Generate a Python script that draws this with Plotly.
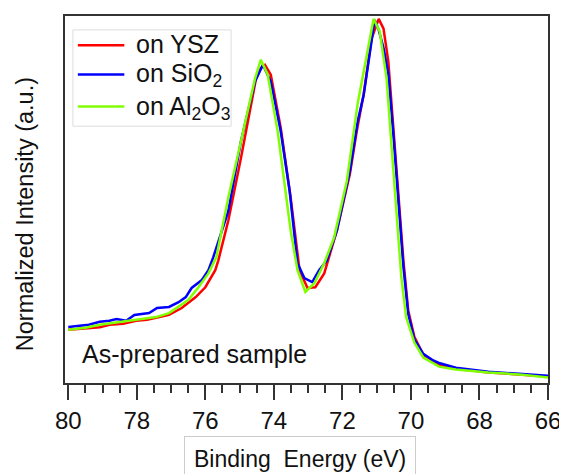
import plotly.graph_objects as go

# Binding energy (eV) and normalized intensity for each sample
ysz_be = [80.0, 79.5, 79.08, 78.8, 78.4, 78.02, 77.7, 77.44, 77.06, 76.69, 76.5, 76.28, 76.0,
          75.71, 75.62, 75.33, 74.96, 74.7, 74.52, 74.38, 74.26, 74.09, 73.95, 73.8, 73.51,
          73.25, 73.02, 72.88, 72.79, 72.53, 72.16, 71.78, 71.58, 71.38, 71.15, 70.94, 70.8,
          70.66, 70.51, 70.37, 70.22, 70.08, 69.9, 69.64, 69.18, 68.69, 67.74, 66.76, 66.0]
ysz_int = [0.146, 0.150, 0.153, 0.160, 0.163, 0.171, 0.174, 0.179, 0.187, 0.206, 0.220, 0.236, 0.263,
           0.310, 0.337, 0.446, 0.618, 0.750, 0.836, 0.865, 0.874, 0.847, 0.780, 0.701, 0.509,
           0.310, 0.261, 0.262, 0.263, 0.301, 0.419, 0.575, 0.692, 0.793, 0.945, 1.000, 0.973,
           0.883, 0.700, 0.520, 0.337, 0.200, 0.127, 0.078, 0.050, 0.040, 0.029, 0.023, 0.018]

sio2_be = [80.0, 79.7, 79.4, 79.08, 78.8, 78.59, 78.31, 78.07, 77.64, 77.41, 77.06, 76.78, 76.57,
           76.4, 76.11, 75.91, 75.77, 75.33, 74.96, 74.55, 74.32, 74.09, 73.8, 73.54, 73.31,
           73.11, 72.88, 72.68, 72.45, 72.16, 71.78, 71.55, 71.38, 71.06, 70.94, 70.8, 70.66,
           70.51, 70.37, 70.22, 70.08, 69.9, 69.64, 69.35, 69.18, 68.69, 67.74, 66.76, 66.0]
sio2_int = [0.154, 0.158, 0.160, 0.168, 0.171, 0.176, 0.171, 0.187, 0.192, 0.206, 0.209, 0.222, 0.236,
            0.261, 0.282, 0.310, 0.345, 0.472, 0.664, 0.828, 0.874, 0.828, 0.692, 0.528, 0.329,
            0.288, 0.277, 0.310, 0.337, 0.419, 0.583, 0.720, 0.790, 0.997, 0.970, 0.920, 0.850,
            0.680, 0.500, 0.320, 0.190, 0.120, 0.080, 0.062, 0.055, 0.042, 0.031, 0.024, 0.020]

al2o3_be = [80.0, 79.5, 79.08, 78.6, 78.2, 77.8, 77.44, 77.06, 76.78, 76.5, 76.2, 75.91, 75.68,
            75.33, 74.96, 74.55, 74.38, 74.18, 73.89, 73.69, 73.51, 73.31, 73.08, 72.82, 72.53,
            72.24, 71.87, 71.55, 71.32, 71.09, 70.91, 70.71, 70.57, 70.42, 70.28, 70.14, 69.9,
            69.64, 69.18, 68.69, 67.74, 66.76, 66.0]
al2o3_int = [0.146, 0.152, 0.160, 0.166, 0.172, 0.178, 0.181, 0.192, 0.209, 0.228, 0.263, 0.301, 0.345,
             0.509, 0.664, 0.836, 0.888, 0.847, 0.692, 0.555, 0.419, 0.310, 0.250, 0.274, 0.329,
             0.400, 0.555, 0.770, 0.880, 1.000, 0.965, 0.836, 0.656, 0.473, 0.291, 0.181, 0.111,
             0.070, 0.045, 0.037, 0.029, 0.023, 0.015]

series_names = ["on YSZ", "on SiO<sub>2</sub>", "on Al<sub>2</sub>O<sub>3</sub>"]
series_colors = ["#ff0000", "#0000ff", "#7fff00"]
x_tickvals = [80, 78, 76, 74, 72, 70, 68, 66]

FONT = "Liberation Sans, Arial, sans-serif"
INK = "#111111"
AXC = "#333333"

# plot-area pixel geometry (screen coordinates) used for layout placement
PL, PR, PT, PB = 65.0, 553.5, 14.0, 383.5


def px(xpix):
    return (xpix - PL) / (PR - PL)


def py(ypix):
    return (PB - ypix) / (PB - PT)


fig = go.Figure()
for be, inten, name, col in zip([ysz_be, sio2_be, al2o3_be], [ysz_int, sio2_int, al2o3_int],
                                series_names, series_colors):
    fig.add_trace(go.Scatter(x=be, y=inten, mode="lines", name=name, showlegend=False,
                             line=dict(color=col, width=2.5)))

# hand-built legend (box, line samples, labels)
shapes = [dict(type="rect", xref="paper", yref="paper",
               x0=px(73), x1=px(233), y0=py(125), y1=py(28),
               line=dict(color="#dddddd", width=1), fillcolor="white", layer="above")]
annotations = []
legend_rows = [43.5, 73.0, 105.0]
legend_text_rows = [42.5, 73.0, 106.5]
for name, col, ry, ty in zip(series_names, series_colors, legend_rows, legend_text_rows):
    shapes.append(dict(type="line", xref="paper", yref="paper",
                       x0=px(78), x1=px(125), y0=py(ry), y1=py(ry),
                       line=dict(color=col, width=2.5), layer="above"))
    annotations.append(dict(text=name, xref="paper", yref="paper",
                            x=px(135), y=py(ty), xanchor="left", yanchor="middle",
                            showarrow=False, font=dict(family=FONT, size=25, color=INK)))

annotations += [
    dict(text="Binding  Energy (eV)", xref="paper", yref="paper",
         x=0.487, y=-0.208, xanchor="center", yanchor="middle", showarrow=False,
         bordercolor="#cccccc", borderwidth=1, borderpad=9,
         font=dict(family=FONT, size=23, color=INK)),
    dict(text="Normalized Intensity (a.u.)", xref="paper", yref="paper",
         x=-0.084, y=0.461, xanchor="center", yanchor="middle", showarrow=False,
         textangle=-90, font=dict(family=FONT, size=23.5, color=INK)),
    dict(text="As-prepared sample", xref="paper", yref="paper",
         x=0.032, y=0.078, xanchor="left", yanchor="middle", showarrow=False,
         font=dict(family=FONT, size=25, color=INK)),
]

# the page body has an 8px margin; the figure is sized to compensate
fig.update_layout(
    width=559, height=466,
    margin=dict(l=57, r=13.5, t=6, b=90.5),
    paper_bgcolor="white", plot_bgcolor="white",
    font=dict(family=FONT, size=24, color=INK),
    showlegend=False,
    xaxis=dict(range=[80.095, 66.0], showgrid=False, zeroline=False,
               showline=True, mirror=True, linecolor=AXC, linewidth=2,
               tickmode="array", tickvals=x_tickvals,
               ticks="outside", ticklen=15, tickwidth=2, tickcolor=AXC,
               minor=dict(dtick=0.5, ticks="outside", ticklen=8, tickwidth=2, tickcolor=AXC),
               tickfont=dict(family=FONT, size=24, color=INK)),
    yaxis=dict(range=[0, 1.008], showgrid=False, zeroline=False,
               showline=True, mirror=True, linecolor=AXC, linewidth=2,
               showticklabels=False, ticks=""),
    shapes=shapes,
    annotations=annotations,
)

fig.write_html("out.html")
